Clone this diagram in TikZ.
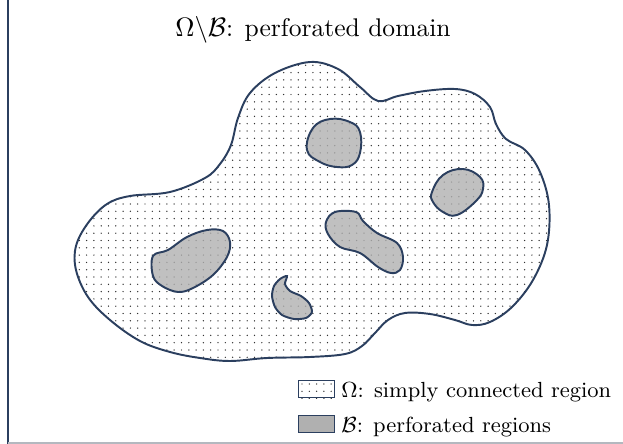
\documentclass[tikz,border=0pt]{standalone}
\definecolor{edge}{HTML}{2B3F5F}
\definecolor{holegray}{gray}{0.69}
\definecolor{rulegray}{HTML}{B4B8BF}
\begin{document}
\begin{tikzpicture}[x=0.014446cm,y=-0.014446cm,
  outline/.style={draw=edge,line width=0.8pt},
  hole/.style={draw=edge,line width=0.8pt,fill=holegray,fill opacity=0.8,draw opacity=1},
  dotmark/.style={fill=black!80},
  keybox/.style={draw=edge,line width=0.5pt,inner sep=0pt,minimum width=0.52cm,minimum height=0.25cm},
  keytext/.style={anchor=base west,inner sep=0pt,font=\small},
]
\useasboundingbox (0,0) rectangle (623,444);

% frame edges
\draw[edge,line width=1pt] (8,0) -- (8,444);
\draw[rulegray,line width=1pt] (8,443) -- (623,443);

% title
\node[inner sep=0pt,font=\fontsize{10.5}{13}\selectfont] (title) at (313,30) {$\Omega\backslash\mathcal{B}$: perforated domain};

% dotted fill of the simply connected region
\begin{scope}
  \clip plot[smooth cycle,tension=0.6] coordinates {
    (310,62) (338,69) (360,87) (378,101) (398,96) (425,91) (455,89) (475,94)
    (490,107) (496,124) (506,139) (525,150) (540,172) (549,205) (547,245)
    (533,280) (512,307) (490,322) (472,325) (455,320) (430,314) (405,313)
    (388,320) (375,333) (362,346) (345,354) (310,357) (267,358) (230,361)
    (200,358) (170,352) (140,341) (110,320) (88,297) (76,270) (76,246)
    (88,223) (107,204) (130,196) (170,192) (205,178) (220,164) (231,145)
    (238,118) (250,93) (275,73)};
  \foreach \i in {0,...,66}{
    \foreach \j in {0,...,42}{
      \fill[dotmark] ({72+\i*7.3},{58+\j*7.3}) circle[radius=0.3pt];
    }
  }
\end{scope}

% boundary of the simply connected region
\draw[outline] plot[smooth cycle,tension=0.6] coordinates {
  (310,62) (338,69) (360,87) (378,101) (398,96) (425,91) (455,89) (475,94)
  (490,107) (496,124) (506,139) (525,150) (540,172) (549,205) (547,245)
  (533,280) (512,307) (490,322) (472,325) (455,320) (430,314) (405,313)
  (388,320) (375,333) (362,346) (345,354) (310,357) (267,358) (230,361)
  (200,358) (170,352) (140,341) (110,320) (88,297) (76,270) (76,246)
  (88,223) (107,204) (130,196) (170,192) (205,178) (220,164) (231,145)
  (238,118) (250,93) (275,73)};

% perforations
\draw[hole] plot[smooth cycle,tension=0.7] coordinates {
  (307,150) (313,128) (330,119) (350,122) (360,132) (360,153) (352,165)
  (337,167) (320,162)};
\draw[hole] plot[smooth cycle,tension=0.7] coordinates {
  (432,192) (443,175) (463,169) (480,177) (483,189) (476,201) (457,215)
  (443,212) (433,202)};
\draw[hole] plot[smooth cycle,tension=0.6] coordinates {
  (326,222) (335,212) (356,212) (363,221) (377,233) (397,243) (403,257)
  (400,270) (391,273) (378,267) (360,253) (340,247) (328,234)};
\draw[hole] plot[smooth cycle,tension=0.6] coordinates {
  (153,256) (168,250) (187,237) (207,230) (223,231) (230,242) (227,257)
  (213,275) (193,288) (178,292) (162,286) (153,276)};
\draw[hole] plot[smooth cycle,tension=0.45] coordinates {
  (287,276) (285,284) (290,291) (301,296) (309,303) (312,312) (306,318)
  (294,319) (282,315) (275,307) (272,296) (274,286) (280,279)};

% legend
\node[keybox,anchor=east] (keyomega) at (335,389) {};
\begin{scope}
  \clip (keyomega.south west) rectangle (keyomega.north east);
  \foreach \i in {0,...,5}{
    \foreach \j in {0,...,2}{
      \fill[dotmark] ({302+\i*7.3},{384+\j*7.3}) circle[radius=0.3pt];
    }
  }
\end{scope}
\node[keybox,anchor=east] (keyomegaframe) at (335,389) {};
\node[keytext] (txtomega) at (341,397) {$\Omega$: simply connected region};
\node[keybox,fill=holegray,anchor=east] (keyb) at (335,424) {};
\node[keytext] (txtb) at (341,432) {$\mathcal{B}$: perforated regions};
\end{tikzpicture}
\end{document}
